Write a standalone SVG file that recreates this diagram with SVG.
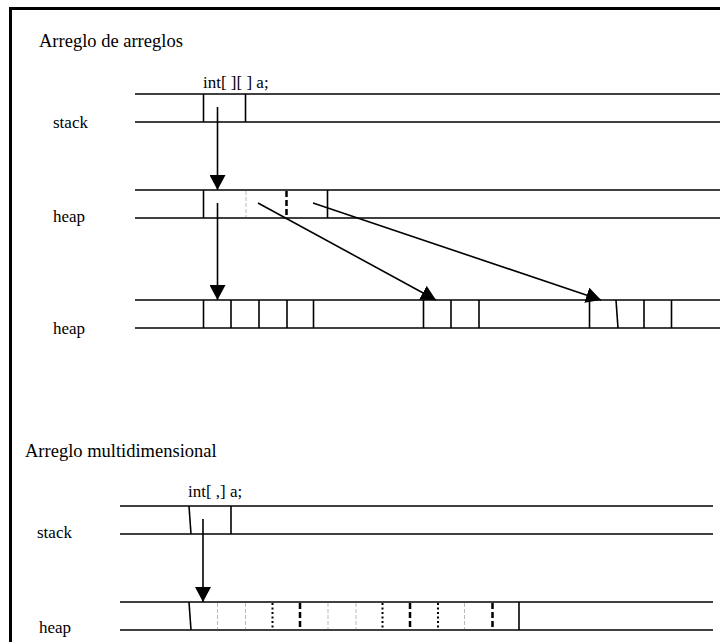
<svg xmlns="http://www.w3.org/2000/svg" width="720" height="642" viewBox="0 0 720 642">
<style>
.t{font-family:'Liberation Serif',serif;font-size:17px;fill:#000}
.ti{font-family:'Liberation Serif',serif;font-size:18.5px;fill:#000}
.h{stroke:#000;stroke-width:1.6;fill:none}
.c{stroke:#000;stroke-width:1.6;fill:none}
.g{stroke:#bbb;stroke-width:1;stroke-dasharray:4 2;fill:none}
.d{stroke:#000;stroke-width:2.5;stroke-dasharray:6 3;fill:none}
.o{stroke:#000;stroke-width:2;stroke-dasharray:2 2.5;fill:none}
.a{stroke:#000;stroke-width:1.6;fill:none;marker-end:url(#ah)}
</style>
<defs>
<marker id="ah" viewBox="0 0 15 16" refX="15" refY="8" markerWidth="15" markerHeight="16" orient="auto" markerUnits="userSpaceOnUse">
<path d="M0,0 L15,8 L0,16 z" fill="#000"/>
</marker>
</defs>
<rect width="720" height="642" fill="#fff"/>
<g id="frame">
<line x1="9" y1="8.5" x2="720" y2="8.5" stroke="#000" stroke-width="3"/>
<line x1="10.5" y1="7" x2="10.5" y2="642" stroke="#000" stroke-width="3"/>
</g>
<g id="titles">
<text class="ti" x="39" y="47">Arreglo de arreglos</text>
<text class="ti" x="25" y="457">Arreglo multidimensional</text>
</g>
<g id="stack1">
<text class="t" x="203" y="88">int[ ][ ] a;</text>
<text class="t" x="53" y="128">stack</text>
<line class="h" x1="135" y1="94" x2="720" y2="94"/>
<line class="h" x1="135" y1="122" x2="720" y2="122"/>
<line class="c" x1="203.5" y1="94" x2="203.5" y2="122"/>
<line class="c" x1="245.5" y1="94" x2="245.5" y2="122"/>
</g>
<g id="heap1">
<text class="t" x="53" y="222">heap</text>
<line class="h" x1="135" y1="190" x2="720" y2="190"/>
<line class="h" x1="135" y1="218" x2="720" y2="218"/>
<line class="c" x1="203.5" y1="190" x2="203.5" y2="218"/>
<line class="g" x1="246" y1="191" x2="246" y2="217"/>
<line class="d" x1="286.5" y1="191" x2="286.5" y2="217"/>
<line class="c" x1="327.5" y1="190" x2="327.5" y2="218"/>
</g>
<g id="heap2">
<text class="t" x="53" y="334">heap</text>
<line class="h" x1="135" y1="300" x2="720" y2="300"/>
<line class="h" x1="135" y1="328" x2="720" y2="328"/>
<line class="c" x1="203.5" y1="300" x2="203.5" y2="328"/>
<line class="c" x1="231" y1="300" x2="231" y2="328"/>
<line class="c" x1="259" y1="300" x2="259" y2="328"/>
<line class="c" x1="287" y1="300" x2="287" y2="328"/>
<line class="c" x1="313.5" y1="300" x2="313.5" y2="328"/>
<line class="c" x1="423.5" y1="300" x2="423.5" y2="328"/>
<line class="c" x1="451" y1="300" x2="451" y2="328"/>
<line class="c" x1="479" y1="300" x2="479" y2="328"/>
<line class="c" x1="589.5" y1="300" x2="589.5" y2="328"/>
<line class="c" x1="616" y1="300" x2="618" y2="328"/>
<line class="c" x1="644" y1="300" x2="644" y2="328"/>
<line class="c" x1="671.5" y1="300" x2="671.5" y2="328"/>
</g>
<g id="stack2">
<text class="t" x="188" y="497">int[ ,] a;</text>
<text class="t" x="37" y="538">stack</text>
<line class="h" x1="120" y1="506" x2="713" y2="506"/>
<line class="h" x1="120" y1="534" x2="713" y2="534"/>
<line class="c" x1="189" y1="506" x2="191" y2="534"/>
<line class="c" x1="231" y1="506" x2="231" y2="534"/>
</g>
<g id="heap3">
<text class="t" x="39" y="633">heap</text>
<line class="h" x1="120" y1="602" x2="713" y2="602"/>
<line class="h" x1="120" y1="630" x2="713" y2="630"/>
<line class="c" x1="189" y1="602" x2="191" y2="630"/>
<line class="g" x1="217.5" y1="603" x2="217.5" y2="629"/>
<line class="g" x1="245.5" y1="603" x2="245.5" y2="629"/>
<line class="o" x1="272.5" y1="603" x2="272.5" y2="629"/>
<line class="d" x1="300" y1="603" x2="300" y2="629"/>
<line class="g" x1="328" y1="603" x2="328" y2="629"/>
<line class="g" x1="356" y1="603" x2="356" y2="629"/>
<line class="o" x1="382.5" y1="603" x2="382.5" y2="629"/>
<line class="d" x1="410" y1="603" x2="410" y2="629"/>
<line class="o" x1="438" y1="603" x2="438" y2="629"/>
<line class="g" x1="464.5" y1="603" x2="464.5" y2="629"/>
<line class="d" x1="492.5" y1="603" x2="492.5" y2="629"/>
<line class="c" x1="519" y1="602" x2="519" y2="630"/>
</g>
<g id="connectors">
<line class="a" x1="217.5" y1="107" x2="217.5" y2="190"/>
<line class="a" x1="217.5" y1="203" x2="217.5" y2="300"/>
<line class="a" x1="258" y1="203" x2="436" y2="300"/>
<line class="a" x1="313" y1="203" x2="601" y2="300"/>
<line class="a" x1="203" y1="519" x2="203" y2="602"/>
</g>
</svg>
